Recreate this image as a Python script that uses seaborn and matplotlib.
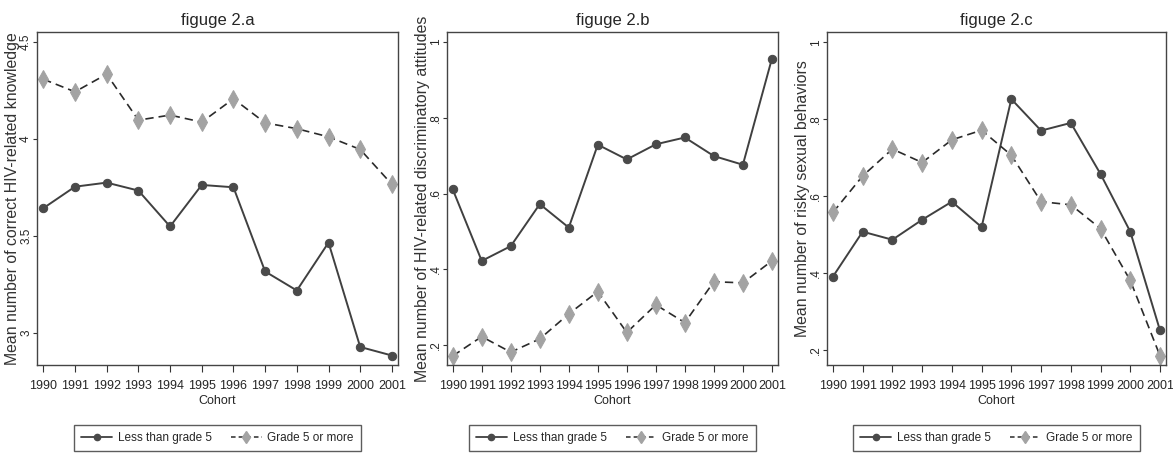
import numpy as np
import pandas as pd
import matplotlib
matplotlib.use('Agg')
import matplotlib.pyplot as plt
import seaborn as sns
from matplotlib.lines import Line2D

cohort = list(range(1990, 2002))

# figuge 2.a - knowledge
know_low = [3.643, 3.754, 3.775, 3.734, 3.549, 3.763, 3.751, 3.317, 3.219, 3.466, 2.928, 2.884]
know_high = [4.308, 4.243, 4.334, 4.097, 4.123, 4.087, 4.207, 4.083, 4.053, 4.011, 3.946, 3.766]
# figuge 2.b - discriminatory attitudes
disc_low = [0.611, 0.422, 0.461, 0.572, 0.510, 0.729, 0.690, 0.730, 0.748, 0.699, 0.676, 0.956]
disc_high = [0.171, 0.222, 0.181, 0.216, 0.282, 0.341, 0.233, 0.306, 0.259, 0.367, 0.364, 0.422]
# figuge 2.c - risky sexual behaviors
risk_low = [0.390, 0.507, 0.486, 0.538, 0.585, 0.519, 0.852, 0.770, 0.790, 0.657, 0.507, 0.250]
risk_high = [0.557, 0.652, 0.722, 0.687, 0.746, 0.771, 0.706, 0.585, 0.577, 0.515, 0.380, 0.184]

titles = ['figuge 2.a', 'figuge 2.b', 'figuge 2.c']
ylabels = ['Mean number of correct HIV-related knowledge',
           'Mean number of HIV-related discriminatory attitudes',
           'Mean number of risky sexual behaviors']
yticks_a = [3, 3.5, 4, 4.5]
yticklabels_a = ['3', '3.5', '4', '4.5']
yticks_bc = [0.2, 0.4, 0.6, 0.8, 1.0]
yticklabels_bc = ['.2', '.4', '.6', '.8', '1']
legend_labels = ['Less than grade 5', 'Grade 5 or more']

sns.set_style('white')
plt.rcParams['font.family'] = ['Liberation Sans Narrow', 'Liberation Sans', 'DejaVu Sans']

fig = plt.figure(figsize=(11.73, 4.54), dpi=100)
boxes = [[0.0315, 0.196, 0.308, 0.733],
         [0.381, 0.196, 0.282, 0.733],
         [0.705, 0.196, 0.289, 0.733]]
label_x = [-0.068, -0.074, -0.072]
panels = [(know_low, know_high, (2.835, 4.55), yticks_a, yticklabels_a),
          (disc_low, disc_high, (0.147, 1.026), yticks_bc, yticklabels_bc),
          (risk_low, risk_high, (0.16, 1.026), yticks_bc, yticklabels_bc)]

dark = '#4a4a4a'
light = '#a3a3a3'

for i, (low, high, ylim, yt, ytl) in enumerate(panels):
    ax = fig.add_axes(boxes[i])
    df = pd.DataFrame({'Cohort': cohort, 'low': low, 'high': high})
    sns.lineplot(data=df, x='Cohort', y='low', ax=ax, color='#404040', lw=1.4,
                 marker='o', markersize=6, markerfacecolor=dark, markeredgecolor=dark)
    sns.lineplot(data=df, x='Cohort', y='high', ax=ax, color='#2a2a2a', lw=1.2,
                 linestyle=(0, (5, 3)), marker='d', markersize=9,
                 markerfacecolor=light, markeredgecolor=light)
    ax.set_xlim(1989.8, 2001.2)
    ax.set_ylim(*ylim)
    ax.set_xticks(cohort)
    ax.set_xticklabels([str(c) for c in cohort], fontsize=9)
    ax.set_yticks(yt)
    ax.set_yticklabels(ytl, fontsize=8.5, rotation=90, va='center')
    ax.tick_params(axis='x', direction='out', length=5, width=0.8, color='#333333', pad=6,
                   bottom=True)
    ax.tick_params(axis='y', direction='out', length=3, width=0.8, color='#333333', pad=0.5,
                   left=True)
    for s in ax.spines.values():
        s.set_color('#444444')
        s.set_linewidth(1.0)
    ax.set_title(titles[i], fontsize=12, pad=5)
    ax.set_xlabel('Cohort', fontsize=9, labelpad=2)
    ax.set_ylabel(ylabels[i], fontsize=11.4, color='#333333',
                  family=['Liberation Sans', 'DejaVu Sans'])
    ax.yaxis.set_label_coords(label_x[i], 0.5)
    ax.yaxis.label.set_va('center')
    handles = [Line2D([], [], color='#404040', lw=1.3, marker='o', markersize=4.5,
                      markerfacecolor=dark, markeredgecolor=dark),
               Line2D([], [], color='#2a2a2a', lw=1.1, linestyle=(0, (3, 2)), marker='d',
                      markersize=6, markerfacecolor=light, markeredgecolor=light)]
    leg = ax.legend(handles, legend_labels, loc='center', bbox_to_anchor=(0.5, -0.219),
                    ncol=2, frameon=True, fancybox=False, fontsize=8.5, handlelength=2.6,
                    handletextpad=0.5, columnspacing=1.6, borderpad=0.6, edgecolor='#333333')
    leg.get_frame().set_linewidth(1.0)

fig.savefig('out.png', dpi=100)
